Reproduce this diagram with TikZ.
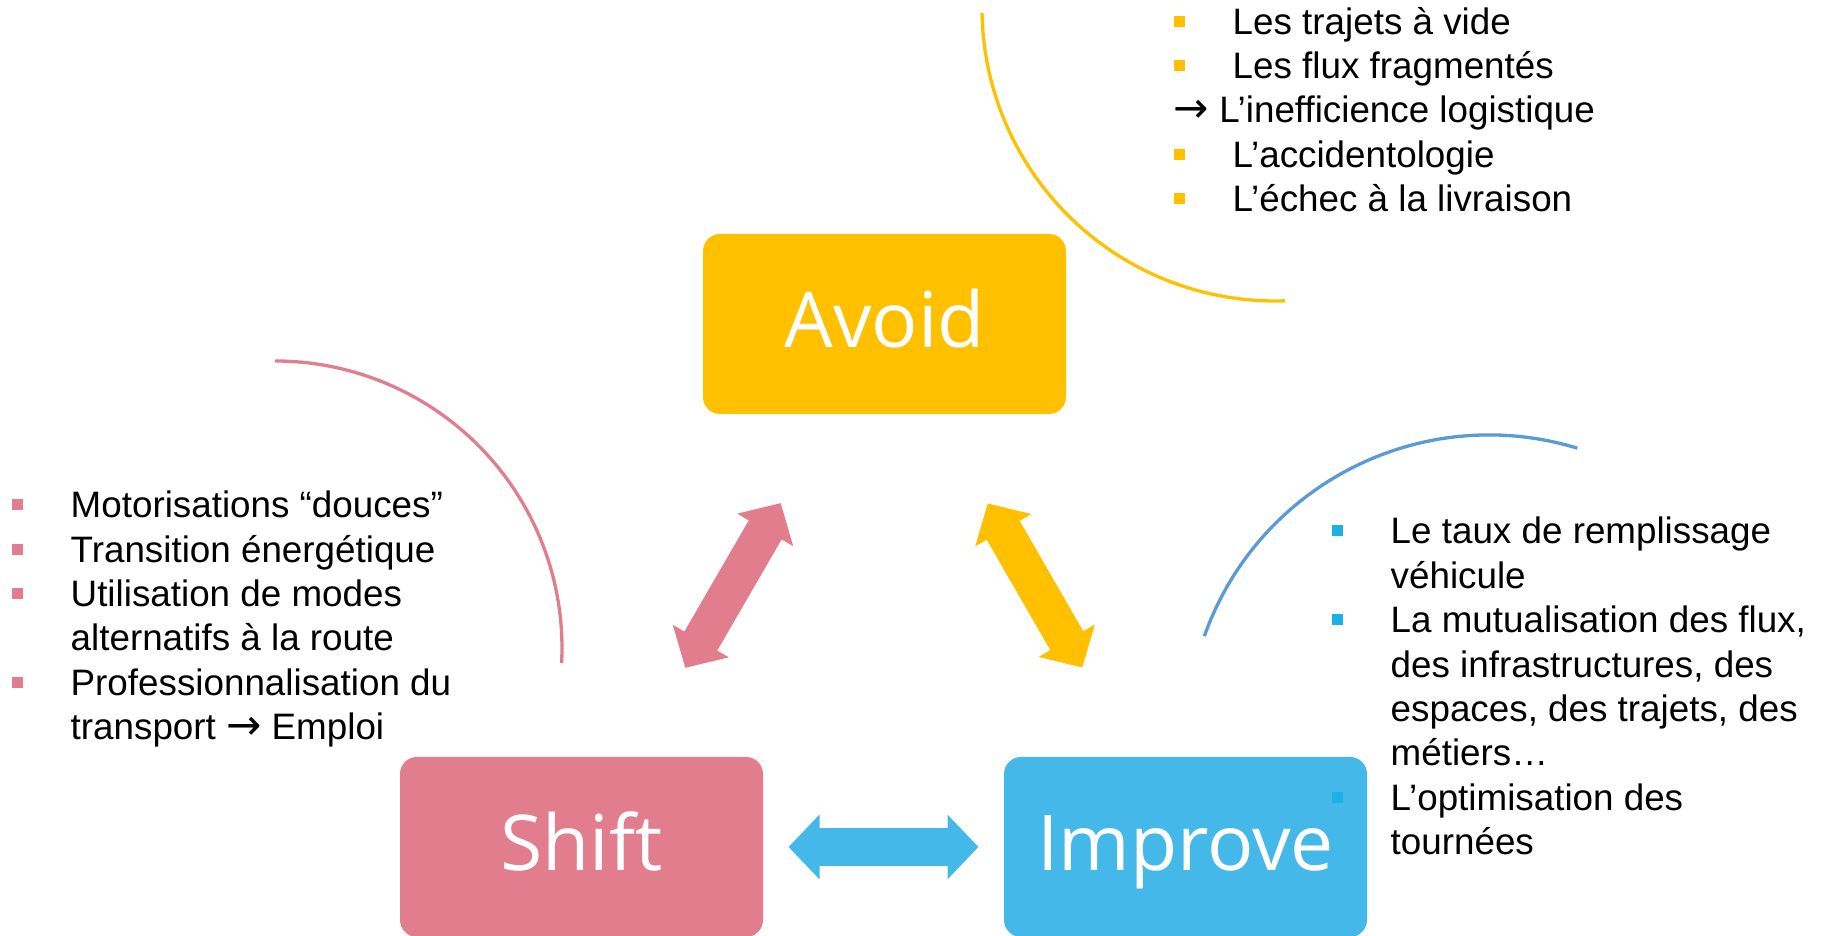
\documentclass[tikz,border=0pt]{standalone}
\usepackage{fontspec}
\setmainfont{Liberation Sans}
\newfontfamily\boxfont{Open Sans}
\newfontfamily\arrowfont{DejaVu Sans}
\usetikzlibrary{arrows.meta}
\usetikzlibrary{positioning}

\definecolor{avoidgold}{RGB}{255,192,0}
\definecolor{shiftpink}{RGB}{225,125,140}
\definecolor{improveblue}{RGB}{69,184,234}
\definecolor{arcblue}{RGB}{91,155,213}
\definecolor{puceblue}{RGB}{27,177,231}

\newcommand{\puce}[1]{\makebox[0.59cm][l]{\textcolor{#1}{\rule[0.075cm]{0.11cm}{0.11cm}}}}
\newcommand{\retrait}{\hspace*{0.59cm}}
\newcommand{\fleche}{{\arrowfont\fontsize{12}{12}\selectfont →}}

\tikzset{
  box/.style = {rounded corners=0.17cm, minimum width=3.63cm, minimum height=1.80cm,
    inner sep=0pt, text=white, font=\boxfont\fontsize{21.9}{26}\selectfont,
    text height=0.48cm, text depth=0pt},
  liste/.style = {align=left, inner sep=0pt, anchor=base west,
    font=\fontsize{10.47}{12.66}\selectfont},% base = last line
  arcline/.style = {line width=0.033cm},
  biarrow/.style = {line width=0.38cm, shorten <=2.07cm, shorten >=2.07cm,
    {Triangle[length=0.31cm, width=0.63cm]}-{Triangle[length=0.31cm, width=0.63cm]}},
}

\begin{document}
\begin{tikzpicture}
\useasboundingbox (0,0) rectangle (18.24,9.36);

% the three boxes
\node [box, fill=avoidgold] (avoid) at (8.845,6.12) {Avoid};
\node [box, fill=shiftpink] (shift) at (5.815,0.89) {Shift};
\node [box, fill=improveblue] (improve) at (11.855,0.89) {Improve};

% double arrows between the boxes
\draw [biarrow, shiftpink] (shift.center) -- (avoid.center);
\draw [biarrow, avoidgold] (avoid.center) -- (improve.center);
\draw [biarrow, improveblue] (shift.center) -- (improve.center);

% arcs
\coordinate (arcavoid) at (12.75,9.28);
\coordinate (arcshift) at (2.75,2.88);
\coordinate (arcimprove) at (14.89,1.99);
\draw [arcline, avoidgold] (arcavoid) ++(181:2.93) arc [start angle=181, end angle=272, radius=2.93];
\draw [arcline, shiftpink] (arcshift) ++(90:2.87) arc [start angle=90, end angle=-3, radius=2.87];
\draw [arcline, arcblue] (arcimprove) ++(160.5:3.02) arc [start angle=160.5, end angle=73, radius=3.02];

% lists
\node [liste] (avoidlist) at (11.73,7.24) {%
  \puce{avoidgold}Les trajets à vide\\
  \puce{avoidgold}Les flux fragmentés\\
  \fleche{} L’inefficience logistique\\
  \puce{avoidgold}L’accidentologie\\
  \puce{avoidgold}L’échec à la livraison};
\node [liste] (shiftlist) at (0.11,1.96) {%
  \puce{shiftpink}Motorisations “douces”\\
  \puce{shiftpink}Transition énergétique\\
  \puce{shiftpink}Utilisation de modes\\
  \retrait alternatifs à la route\\
  \puce{shiftpink}Professionnalisation du\\
  \retrait transport \fleche{} Emploi};
\node [liste] (improvelist) at (13.31,0.81) {%
  \puce{puceblue}Le taux de remplissage\\
  \retrait véhicule\\
  \puce{puceblue}La mutualisation des flux,\\
  \retrait des infrastructures, des\\
  \retrait espaces, des trajets, des\\
  \retrait métiers…\\
  \puce{puceblue}L’optimisation des\\
  \retrait tournées};
\end{tikzpicture}
\end{document}
